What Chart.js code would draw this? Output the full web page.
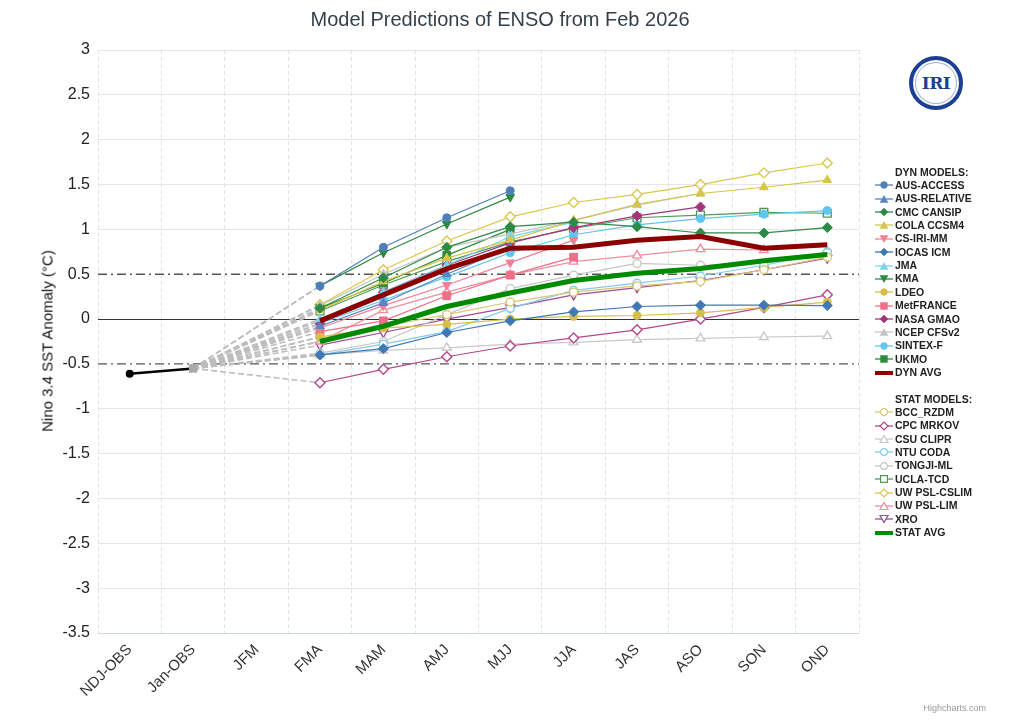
<!DOCTYPE html>
<html>
<head>
<meta charset="utf-8">
<script src="https://cdn.jsdelivr.net/npm/chart.js@4.4.1/dist/chart.umd.min.js"></script>
<style>
  html,body{margin:0;padding:0;background:#fff;}
  body{width:1024px;height:720px;overflow:hidden;font-family:"Liberation Sans",Arial,Helvetica,sans-serif;}
  #wrap{position:relative;width:1024px;height:720px;}
  #c{position:absolute;left:0;top:0;}
  #title{position:absolute;left:0;top:8px;width:1000px;text-align:center;font-size:20px;color:#333f4a;}
  #ytitle{position:absolute;left:47px;top:341px;transform:translate(-50%,-50%) rotate(-90deg);white-space:nowrap;font-size:15px;color:#111;}
  #legend{position:absolute;left:0;top:0;}
  .li{position:absolute;left:874px;height:13px;line-height:13px;font-size:10.5px;font-weight:bold;color:#222;white-space:nowrap;display:flex;align-items:center;}
  .li svg{width:20px;height:12px;margin-right:1px;flex:none;}
  .hd{padding-left:21px;}
  #logo{position:absolute;left:909px;top:56px;width:46px;height:46px;border:4px solid #1d3f93;border-radius:50%;background:#fff;display:flex;align-items:center;justify-content:center;box-shadow:inset 0 0 0 2px #fff, inset 0 0 0 3px #9fb0d6;}
  #logo span{font-family:"DejaVu Serif","Liberation Serif",serif;font-weight:bold;font-size:17px;color:#1d3f93;letter-spacing:-0.5px;}
  #credit{position:absolute;right:38px;top:703px;font-size:9px;color:#999;}
</style>
</head>
<body>
<div id="wrap">
  <canvas id="c" width="1024" height="720"></canvas>
  <div id="title">Model Predictions of ENSO from Feb 2026</div>
  <div id="ytitle">Nino 3.4 SST Anomaly (°C)</div>
  <div id="legend"></div>
  <div id="logo"><span>IRI</span></div>
  <div id="credit">Highcharts.com</div>
</div>
<script>
// ---------------- DATA ----------------
const categories = ['NDJ-OBS','Jan-OBS','JFM','FMA','MAM','AMJ','MJJ','JJA','JAS','ASO','SON','OND'];
const obsValues = [-0.61, -0.55];          // NDJ-OBS, Jan-OBS
const thresholds = [0.5, -0.5];
const yRange = [-3.5, 3];
const yStep = 0.5;

// forecasts: FMA, MAM, AMJ, MJJ, JJA, JAS, ASO, SON, OND
const ausAccess   = [0.37, 0.80, 1.13, 1.43];
const ausRelative = [-0.08, 0.18, 0.50, 0.80];
const cmcCansip   = [0.12, 0.46, 0.80, 1.03, 1.08, 1.03, 0.96, 0.96, 1.02];
const colaCcsm4   = [0.10, 0.42, 0.68, 0.88, 1.10, 1.28, 1.40, 1.47, 1.55];
const csIriMm     = [-0.10, 0.15, 0.38, 0.63, 0.88];
const iocasIcm    = [-0.40, -0.33, -0.15, -0.02, 0.08, 0.14, 0.155, 0.155, 0.15];
const jma         = [0.00, 0.30, 0.60, 0.92, 1.08];
const kma         = [0.37, 0.74, 1.06, 1.36];
const ldeo        = [-0.20, -0.10, -0.06, 0.00, 0.03, 0.04, 0.07, 0.13, 0.19];
const metFrance   = [-0.14, -0.02, 0.26, 0.49, 0.69];
const nasaGmao    = [-0.05, 0.30, 0.60, 0.85, 1.02, 1.15, 1.25];
const ncepCfsv2   = [0.15, 0.50, 0.80, 0.95, 1.10, 1.27, 1.40];
const sintexF     = [-0.05, 0.21, 0.47, 0.74, 0.94, 1.05, 1.12, 1.17, 1.21];
const ukmo        = [0.12, 0.40, 0.71, 1.00];
const dynAvg      = [-0.02, 0.27, 0.56, 0.79, 0.80, 0.88, 0.92, 0.79, 0.83];

const bccRzdm     = [-0.20, -0.08, 0.05, 0.19, 0.30, 0.37, 0.42, 0.55, 0.69];
const cpcMrkov    = [-0.71, -0.56, -0.42, -0.30, -0.21, -0.12, 0.00, 0.13, 0.27];
const csuClipr    = [-0.40, -0.35, -0.32, -0.28, -0.26, -0.23, -0.215, -0.20, -0.19];
const ntuCoda     = [-0.40, -0.28, -0.14, 0.12, 0.32, 0.40, 0.48, 0.60, 0.74];
const tongjiMl    = [-0.38, -0.25, 0.05, 0.34, 0.49, 0.62, 0.60, 0.62, 0.75];
const uclaTcd     = [0.09, 0.38, 0.64, 0.86, 1.01, 1.13, 1.16, 1.19, 1.18];
const uwPslCslim  = [0.16, 0.55, 0.87, 1.14, 1.30, 1.39, 1.50, 1.63, 1.74];
const uwPslLim    = [-0.25, 0.10, 0.30, 0.49, 0.64, 0.71, 0.78, 0.77];
const xro         = [-0.29, -0.15, 0.00, 0.13, 0.27, 0.35, 0.43, 0.55, 0.68];
const statAvg     = [-0.25, -0.08, 0.14, 0.29, 0.43, 0.51, 0.565, 0.65, 0.72];

const dynNames = ['AUS-ACCESS','AUS-RELATIVE','CMC CANSIP','COLA CCSM4','CS-IRI-MM','IOCAS ICM','JMA','KMA','LDEO','MetFRANCE','NASA GMAO','NCEP CFSv2','SINTEX-F','UKMO','DYN AVG'];
const dynSeries = [ausAccess, ausRelative, cmcCansip, colaCcsm4, csIriMm, iocasIcm, jma, kma, ldeo, metFrance, nasaGmao, ncepCfsv2, sintexF, ukmo, dynAvg];
const statNames = ['BCC_RZDM','CPC MRKOV','CSU CLIPR','NTU CODA','TONGJI-ML','UCLA-TCD','UW PSL-CSLIM','UW PSL-LIM','XRO','STAT AVG'];
const statSeries = [bccRzdm, cpcMrkov, csuClipr, ntuCoda, tongjiMl, uclaTcd, uwPslCslim, uwPslLim, xro, statAvg];

// ---------------- STYLES ----------------
const dynStyles = [
  {c:'#4f7fb8', s:'circle'},
  {c:'#5a85c0', s:'triangle'},
  {c:'#2d8a46', s:'rectRot'},
  {c:'#d6c54a', s:'triangle'},
  {c:'#f27f93', s:'triangle', rot:180},
  {c:'#3f78b5', s:'rectRot'},
  {c:'#7dd3ee', s:'triangle'},
  {c:'#2b8a3e', s:'triangle', rot:180},
  {c:'#d6bf4a', s:'circle'},
  {c:'#ee6f87', s:'rect'},
  {c:'#a5357a', s:'rectRot'},
  {c:'#c4c4c4', s:'triangle'},
  {c:'#5ec6ef', s:'circle'},
  {c:'#2e8a3c', s:'rect'},
  {c:'#8c0000', avg:true}
];
const statStyles = [
  {c:'#d9c773', s:'circle'},
  {c:'#b3478b', s:'rectRot'},
  {c:'#c9c9c9', s:'triangle'},
  {c:'#84cbe8', s:'circle'},
  {c:'#c6c6c6', s:'circle'},
  {c:'#4f9a58', s:'rect'},
  {c:'#d9c84e', s:'rectRot'},
  {c:'#f28c9f', s:'triangle'},
  {c:'#9e4d8f', s:'triangle', rot:180},
  {c:'#008a00', avg:true}
];
const radiusFor = {circle:4, triangle:5, rect:5.5, rectRot:5};
const firstForecastIndex = 3;

function fullSeries(fc){ return [null, obsValues[1], null].concat(fc); }

function makeDataset(name, fc, st, open){
  const r = st.avg ? 0 : radiusFor[st.s];
  const isConn = c => c.p1DataIndex === firstForecastIndex;
  return {
    label: name,
    data: fullSeries(fc),
    borderColor: st.c,
    borderWidth: st.avg ? 5 : 1.2,
    pointStyle: st.s || 'circle',
    rotation: st.rot || 0,
    pointRadius: ctx => (ctx.dataIndex === 1 ? 0 : r),
    pointBackgroundColor: open ? '#ffffff' : st.c,
    pointBorderColor: st.c,
    pointBorderWidth: open ? 1.4 : 1,
    spanGaps: true,
    fill: false,
    tension: 0,
    order: st.avg ? 0 : 1,
    segment: {
      borderColor: c => (isConn(c) ? '#bdbdbd' : undefined),
      borderDash: c => (isConn(c) ? [6, 3] : undefined),
      borderWidth: c => (isConn(c) ? 1.6 : undefined)
    }
  };
}

const datasets = [];
// observations
datasets.push({
  label: 'OBS',
  data: obsValues.concat(new Array(categories.length - obsValues.length).fill(null)),
  borderColor: '#000',
  borderWidth: 2.5,
  pointStyle: ['circle', 'rect'],
  pointRadius: [4, 6],
  pointBackgroundColor: ['#000', '#a9a9a9'],
  pointBorderColor: ['#000', '#a9a9a9'],
  pointBorderWidth: 0,
  order: 0
});
dynNames.forEach((n, i) => datasets.push(makeDataset(n, dynSeries[i], dynStyles[i], false)));
statNames.forEach((n, i) => datasets.push(makeDataset(n, statSeries[i], statStyles[i], true)));
// threshold lines across full plot width
thresholds.forEach(t => datasets.push({
  label: 'thr' + t,
  xAxisID: 'x2',
  data: [{x: 0, y: t}, {x: 1, y: t}],
  borderColor: '#555',
  borderWidth: 1.4,
  borderDash: [9, 4, 2, 4],
  pointRadius: 0,
  order: 2
}));

new Chart(document.getElementById('c'), {
  type: 'line',
  data: { labels: categories, datasets: datasets },
  options: {
    responsive: false,
    animation: false,
    events: [],
    layout: { padding: { left: 0, right: 165, top: 50, bottom: 0 } },
    plugins: { legend: { display: false }, tooltip: { enabled: false }, title: { display: false } },
    scales: {
      x: {
        type: 'category',
        offset: true,
        grid: { offset: true, color: '#e2e2e2', lineWidth: 1, drawTicks: false },
        border: { display: false, dash: [4, 3] },
        ticks: { color: '#333', font: { family: '"Liberation Sans", Arial, sans-serif', size: 15 }, maxRotation: 45, minRotation: 45, padding: 8, autoSkip: false },
        afterFit: s => { s.height = 87; }
      },
      x2: { type: 'linear', display: false, min: 0, max: 1 },
      y: {
        min: yRange[0], max: yRange[1],
        ticks: { stepSize: yStep, color: '#222', padding: 8, font: { family: '"Liberation Sans", Arial, sans-serif', size: 16 },
                 callback: v => String(v) },
        grid: {
          drawTicks: false,
          lineWidth: 1,
          color: ctx => {
            const v = ctx.tick ? ctx.tick.value : null;
            if (v === 0) return '#333';
            if (v === 0.5 || v === -0.5) return 'rgba(0,0,0,0)';
            if (v === yRange[0]) return '#ccd6eb';
            return '#e6e6e6';
          }
        },
        border: { display: false },
        afterFit: s => { s.width = 98; }
      }
    }
  }
});

// ---------------- HTML LEGEND ----------------
function symbolSvg(st, open){
  if (st.avg) return `<svg viewBox="0 0 20 12"><line x1="1" y1="6" x2="19" y2="6" stroke="${st.c}" stroke-width="4"/></svg>`;
  const fill = open ? '#fff' : st.c;
  const sw = open ? 1.2 : 0.5;
  let m = '';
  if (st.s === 'circle') m = `<circle cx="10" cy="6" r="3.4" fill="${fill}" stroke="${st.c}" stroke-width="${sw}"/>`;
  else if (st.s === 'rect') m = `<rect x="6.6" y="2.6" width="6.8" height="6.8" fill="${fill}" stroke="${st.c}" stroke-width="${sw}"/>`;
  else if (st.s === 'rectRot') m = `<polygon points="10,2 14,6 10,10 6,6" fill="${fill}" stroke="${st.c}" stroke-width="${sw}"/>`;
  else if (st.s === 'triangle' && st.rot) m = `<polygon points="6,2.5 14,2.5 10,9.5" fill="${fill}" stroke="${st.c}" stroke-width="${sw}"/>`;
  else m = `<polygon points="10,2.5 14,9.5 6,9.5" fill="${fill}" stroke="${st.c}" stroke-width="${sw}"/>`;
  return `<svg viewBox="0 0 20 12"><line x1="1" y1="6" x2="19" y2="6" stroke="${st.c}" stroke-width="1.3"/>${m}</svg>`;
}
const lg = document.getElementById('legend');
let html = '';
const rowH = 13.37;
let top0 = 165.5;
html += `<div class="li hd" style="top:${top0}px">DYN MODELS:</div>`;
dynNames.forEach((n, i) => { html += `<div class="li" style="top:${top0 + (i + 1) * rowH}px">${symbolSvg(dynStyles[i], false)}${n}</div>`; });
let top1 = 392.5;
html += `<div class="li hd" style="top:${top1}px">STAT MODELS:</div>`;
statNames.forEach((n, i) => { html += `<div class="li" style="top:${top1 + (i + 1) * rowH}px">${symbolSvg(statStyles[i], true)}${n}</div>`; });
lg.innerHTML = html;
</script>
</body>
</html>
